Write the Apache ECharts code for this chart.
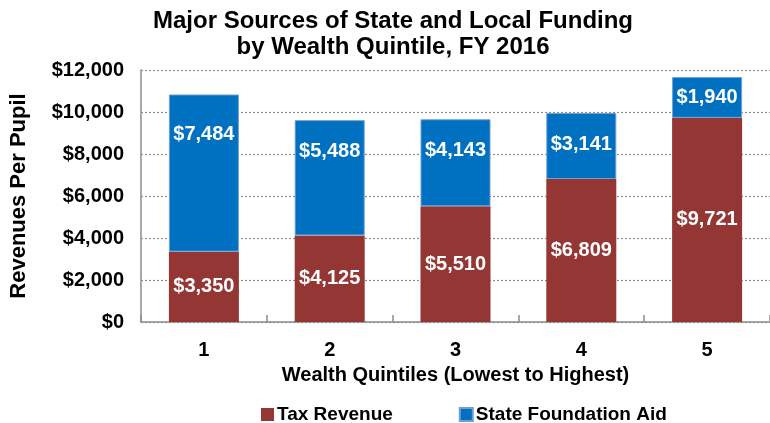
<!DOCTYPE html>
<html>
<head>
<meta charset="utf-8">
<script src="https://cdn.jsdelivr.net/npm/echarts@6/dist/echarts.min.js"></script>
<style>
  html, body { margin: 0; padding: 0; background: #fff; }
  #main { width: 770px; height: 423px; }
</style>
</head>
<body>
<div id="main"></div>
<script>
// data
var quintiles = ['1', '2', '3', '4', '5'];
var taxRevenue = [3350, 4125, 5510, 6809, 9721];
var foundationAid = [7484, 5488, 4143, 3141, 1940];

// label placement of the blue segments (style only)
var aidLabelPos = ['insideTop', 'insideTop', 'insideTop', 'insideTop', 'inside'];
var aidLabelDist = [30, 21, 21, 21, 5];

var FONT = 'Liberation Sans, Arial, sans-serif';

function money(v) {
    return '$' + String(v).replace(/\B(?=(\d{3})+(?!\d))/g, ',');
}

var aidData = foundationAid.map(function (v, i) {
    return {
        value: v,
        label: { position: aidLabelPos[i], distance: aidLabelDist[i] }
    };
});

var option = {
    animation: false,
    textStyle: { fontFamily: FONT },
    title: {
        text: 'Major Sources of State and Local Funding\nby Wealth Quintile, FY 2016',
        left: 388,
        textAlign: 'center',
        top: 3,
        textStyle: {
            fontSize: 24,
            fontWeight: 'bold',
            color: '#000',
            lineHeight: 26,
            fontFamily: FONT
        }
    },
    legend: {
        left: 256,
        top: 400,
        itemWidth: 13,
        itemHeight: 13,
        itemGap: 66,
        icon: 'rect',
        textStyle: { fontSize: 19, fontWeight: 'bold', color: '#000', fontFamily: FONT, padding: [0, 0, 0, -2] },
        data: ['Tax Revenue', 'State Foundation Aid']
    },
    grid: {
        left: 139,
        top: 70,
        width: 635,
        height: 252
    },
    xAxis: {
        type: 'category',
        data: quintiles,
        name: 'Wealth Quintiles (Lowest to Highest)',
        nameLocation: 'middle',
        nameGap: 43,
        nameTextStyle: { fontSize: 20, fontWeight: 'bold', color: '#000', fontFamily: FONT },
        axisLine: { lineStyle: { color: '#8c8c8c', width: 1.5 } },
        axisTick: { show: true, inside: true, length: 7, lineStyle: { color: '#8c8c8c', width: 1.5 } },
        axisLabel: { fontSize: 20, fontWeight: 'bold', color: '#000', margin: 18, fontFamily: FONT }
    },
    yAxis: {
        type: 'value',
        min: 0,
        max: 12000,
        interval: 2000,
        name: 'Revenues Per Pupil',
        nameLocation: 'middle',
        nameGap: 111,
        nameTextStyle: { fontSize: 22, fontWeight: 'bold', color: '#000', fontFamily: FONT },
        axisLine: { show: true, lineStyle: { color: '#8c8c8c', width: 1.5 } },
        axisTick: { show: false },
        axisLabel: {
            fontSize: 20,
            fontWeight: 'bold',
            color: '#000',
            margin: 17,
            fontFamily: FONT,
            formatter: money
        },
        splitLine: { lineStyle: { color: '#8c8c8c', type: [2, 2], width: 1.2 } }
    },
    series: [
        {
            name: 'Tax Revenue',
            type: 'bar',
            stack: 'total',
            barWidth: 70,
            data: taxRevenue,
            itemStyle: { color: '#943634' },
            label: {
                show: true,
                position: 'inside',
                color: '#fff',
                fontSize: 20,
                fontWeight: 'bold',
                fontFamily: FONT,
                formatter: function (p) { return money(p.value); }
            }
        },
        {
            name: 'State Foundation Aid',
            type: 'bar',
            stack: 'total',
            barWidth: 70,
            data: aidData,
            itemStyle: { color: '#0070c0', borderColor: '#6f9fd4', borderWidth: 1 },
            label: {
                show: true,
                color: '#fff',
                fontSize: 20,
                fontWeight: 'bold',
                fontFamily: FONT,
                formatter: function (p) { return money(p.value); }
            }
        }
    ]
};

var myechart = echarts.init(document.getElementById('main'));
myechart.setOption(option);
</script>
</body>
</html>
